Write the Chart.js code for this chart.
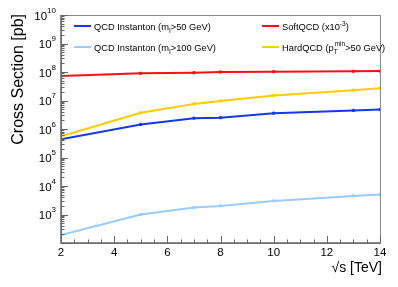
<!DOCTYPE html>
<html>
<head>
<meta charset="utf-8">
<script src="https://cdn.jsdelivr.net/npm/chart.js@4/dist/chart.umd.min.js"></script>
<style>
  html, body { margin: 0; padding: 0; background: #fff; }
  #wrap { width: 398px; height: 287px; }
</style>
</head>
<body>
<div id="wrap"><canvas id="c" width="398" height="287"></canvas></div>
<script>
// sqrt(s) values in TeV
const energies = [2, 5, 7, 8, 10, 13, 14];

// cross sections in pb
const qcdInst50  = [4.4e5, 1.45e6, 2.4e6, 2.5e6, 3.6e6, 4.5e6, 4.8e6];
const qcdInst100 = [190, 1.0e3, 1.75e3, 2.0e3, 3.0e3, 4.5e3, 5.0e3];
const softQCD    = [7.2e7, 9.0e7, 9.4e7, 1.0e8, 1.03e8, 1.06e8, 1.08e8];
const hardQCD    = [5.5e5, 3.7e6, 7.6e6, 9.6e6, 1.5e7, 2.3e7, 2.7e7];

const xTicks = [2, 4, 6, 8, 10, 12, 14];
const yDecades = [2, 3, 4, 5, 6, 7, 8, 9, 10];

const FONT = '"Liberation Sans", Arial, Helvetica, sans-serif';

function pts(ys) {
  return energies.map((e, i) => ({ x: e, y: ys[i] }));
}

function ds(label, ys, color) {
  return {
    label: label,
    data: pts(ys),
    borderColor: color,
    backgroundColor: color,
    borderWidth: 2,
    pointRadius: 1.5,
    pointStyle: 'rect',
    pointBorderWidth: 1,
    tension: 0
  };
}

// legend rows: segments [text, mode]
const legendItems = [
  { color: '#1538e8', x: 74, y: 26, parts: [['QCD Instanton (m', 'n'], ['I', 'sub'], ['>50 GeV)', 'n']] },
  { color: '#99ccff', x: 74, y: 47, parts: [['QCD Instanton (m', 'n'], ['I', 'sub'], ['>100 GeV)', 'n']] },
  { color: '#ff1010', x: 262, y: 26, parts: [['SoftQCD (x10', 'n'], ['-3', 'sup'], [')', 'n']] },
  { color: '#ffcc00', x: 262, y: 47, parts: [['HardQCD (p', 'n'], ['T', 'subsup', 'min'], ['>50 GeV)', 'n']] }
];

function richText(ctx, parts, x, y, size) {
  let cx = x;
  parts.forEach(p => {
    if (p[1] === 'n') {
      ctx.font = size + 'px ' + FONT;
      ctx.fillText(p[0], cx, y);
      cx += ctx.measureText(p[0]).width;
    } else if (p[1] === 'sub') {
      ctx.font = (size * 0.7) + 'px ' + FONT;
      ctx.fillText(p[0], cx, y + size * 0.35);
      cx += ctx.measureText(p[0]).width;
    } else if (p[1] === 'sup') {
      ctx.font = (size * 0.7) + 'px ' + FONT;
      ctx.fillText(p[0], cx, y - size * 0.4);
      cx += ctx.measureText(p[0]).width;
    } else if (p[1] === 'subsup') {
      ctx.font = (size * 0.7) + 'px ' + FONT;
      ctx.fillText(p[0], cx, y + size * 0.4);
      const w1 = ctx.measureText(p[0]).width;
      ctx.fillText(p[2], cx + 1, y - size * 0.45);
      const w2 = ctx.measureText(p[2]).width + 1;
      cx += Math.max(w1, w2);
    }
  });
}

const rootFrame = {
  id: 'rootFrame',
  afterDraw(chart) {
    const ctx = chart.ctx;
    const a = chart.chartArea;
    const xs = chart.scales.x, ys = chart.scales.y;
    ctx.save();

    // frame
    ctx.strokeStyle = '#8a8a8a';
    ctx.lineWidth = 1;
    ctx.strokeRect(a.left + 0.5, a.top + 0.5, a.right - a.left, a.bottom - a.top);
    ctx.strokeStyle = '#666';
    ctx.lineWidth = 1.5;
    ctx.beginPath();
    ctx.moveTo(a.left, a.top);
    ctx.lineTo(a.left, a.bottom);
    ctx.lineTo(a.right, a.bottom);
    ctx.stroke();

    // y ticks
    ctx.lineWidth = 1;
    ctx.strokeStyle = '#666';
    ctx.beginPath();
    yDecades.forEach(e => {
      const py = Math.round(ys.getPixelForValue(Math.pow(10, e))) + 0.5;
      ctx.moveTo(a.left, py);
      ctx.lineTo(a.left + 7, py);
      if (e < 10) {
        for (let m = 2; m <= 9; m++) {
          const q = Math.round(ys.getPixelForValue(m * Math.pow(10, e))) + 0.5;
          ctx.moveTo(a.left, q);
          ctx.lineTo(a.left + 3.5, q);
        }
      }
    });
    // x ticks
    for (let v = 2; v <= 14.001; v += 0.5) {
      const px = Math.round(xs.getPixelForValue(v)) + 0.5;
      const len = (v % 2 === 0) ? 7 : 3.5;
      ctx.moveTo(px, a.bottom);
      ctx.lineTo(px, a.bottom - len);
    }
    ctx.stroke();

    // y labels
    ctx.fillStyle = '#000';
    ctx.textBaseline = 'alphabetic';
    ctx.textAlign = 'left';
    yDecades.forEach(e => {
      const py = ys.getPixelForValue(Math.pow(10, e));
      ctx.font = '8px ' + FONT;
      const ew = ctx.measureText(String(e)).width;
      ctx.font = '11.5px ' + FONT;
      const bw = ctx.measureText('10').width;
      const right = 56;
      if (e > 2) {
        ctx.fillText('10', right - ew - bw, py + 4.5);
        ctx.font = '8px ' + FONT;
        ctx.fillText(String(e), right - ew, py - 2.5);
      }
    });

    // x labels
    ctx.textAlign = 'center';
    ctx.font = '11.5px ' + FONT;
    xTicks.forEach(v => {
      ctx.fillText(String(v), xs.getPixelForValue(v), 256);
    });

    // axis titles
    ctx.textAlign = 'right';
    ctx.font = '14px ' + FONT;
    ctx.fillText('\u221As [TeV]', 382, 272);

    ctx.save();
    ctx.translate(23, 14);
    ctx.rotate(-Math.PI / 2);
    ctx.font = '16px ' + FONT;
    ctx.fillText('Cross Section [pb]', 0, 0);
    ctx.restore();

    // legend
    ctx.textAlign = 'left';
    legendItems.forEach(it => {
      ctx.strokeStyle = it.color;
      ctx.lineWidth = 2;
      ctx.beginPath();
      ctx.moveTo(it.x, it.y);
      ctx.lineTo(it.x + 17, it.y);
      ctx.stroke();
      ctx.fillStyle = '#000';
      richText(ctx, it.parts, it.x + 20, it.y + 3.5, 9.3);
    });

    ctx.restore();
  }
};

new Chart(document.getElementById('c'), {
  type: 'line',
  data: {
    datasets: [
      ds('QCD Instanton (mI>50 GeV)', qcdInst50, '#1538e8'),
      ds('QCD Instanton (mI>100 GeV)', qcdInst100, '#99ccff'),
      ds('SoftQCD (x10^-3)', softQCD, '#ff1010'),
      ds('HardQCD (pT min>50 GeV)', hardQCD, '#ffcc00')
    ]
  },
  options: {
    responsive: false,
    animation: false,
    layout: { padding: { left: 61, right: 18, top: 15, bottom: 44 } },
    plugins: { legend: { display: false }, tooltip: { enabled: false } },
    scales: {
      x: { type: 'linear', min: 2, max: 14, display: false },
      y: { type: 'logarithmic', min: 100, max: 1e10, display: false }
    }
  },
  plugins: [rootFrame]
});
</script>
</body>
</html>
